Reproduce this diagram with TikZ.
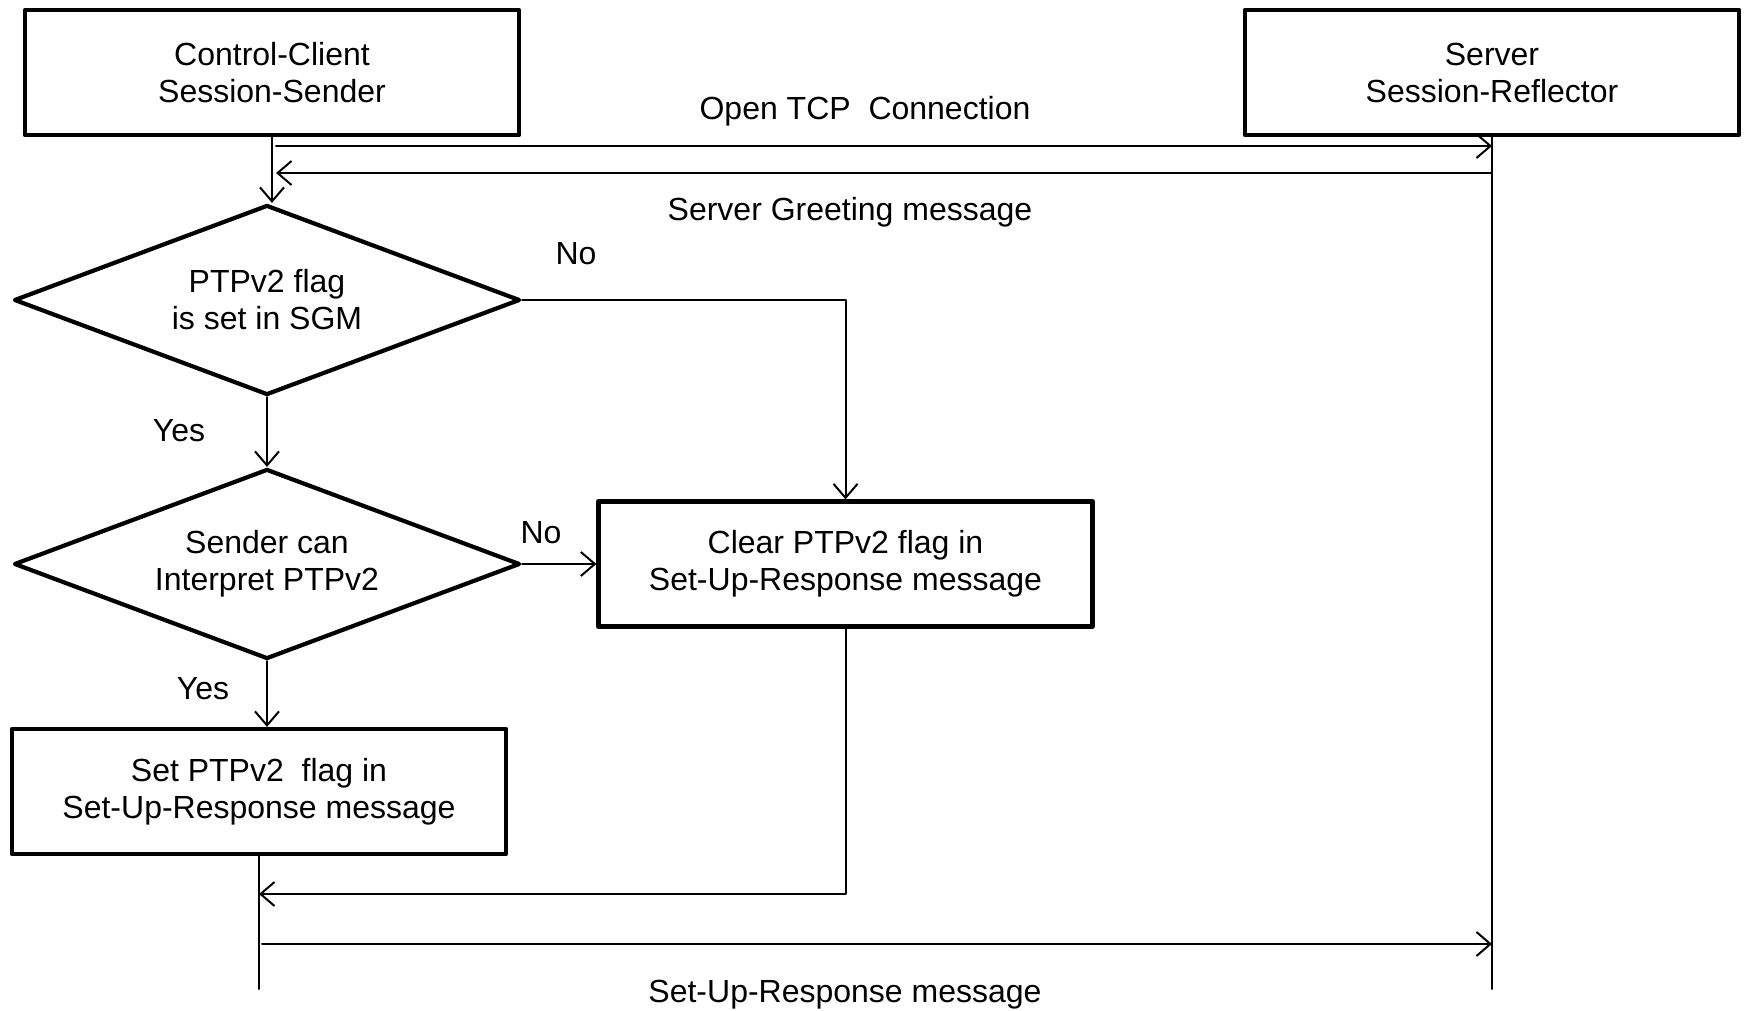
\documentclass[tikz,border=0pt]{standalone}
\usepackage{fontspec}
\setmainfont{Liberation Sans}
\usetikzlibrary{arrows.meta, shapes.geometric, calc}

\begin{document}
\begin{tikzpicture}[x=0.5pt, y=-0.5pt, >={Straight Barb[length=7pt,width=12pt]},
	line cap=round, line join=round, font=\fontsize{16}{18.5}\selectfont,
	box/.style={draw, line width=2.1pt, minimum width=247pt, minimum height=62.5pt,
		inner sep=0pt, align=center},
	decision/.style={draw, diamond, aspect=2.663, line width=2.1pt, minimum width=253pt,
		minimum height=95pt, inner sep=0pt, align=center},
	flow/.style={line width=1pt}]
	
	\useasboundingbox (0,0) rectangle (1747,1011);
	
	% ===== the two parties =====
	\node[box] (client) at (272,72.5) {Control-Client\\Session-Sender};
	\node[box] (server) at (1492,72.5) {Server\\Session-Reflector};
	
	% ===== decisions and actions on the client side =====
	\node[decision] (sgm) at (267,300) {PTPv2 flag\\is set in SGM};
	\node[decision] (interp) at (267,564) {Sender can\\Interpret PTPv2};
	\node[box] (clear) at (845.5,564) {Clear PTPv2 flag in\\Set-Up-Response message};
	\node[box] (setflag) at (259,791.5) {Set PTPv2~ flag in\\Set-Up-Response message};
	
	% lifeline ends
	\coordinate (srvend) at (1492,989);
	\coordinate (cliend) at (257,989);
	\draw[flow] (server.south) -- (srvend);
	
	% TCP open and greeting
	\coordinate (tcp) at (276,146);
	\coordinate (greet) at (276,173);
	\draw[flow,->] (tcp) -- (tcp -| server.south);
	\draw[flow,->] (greet -| server.south) -- (greet);
	\node (tcplbl) at (865,111) {Open TCP~ Connection};
	\node (greetlbl) at (850,212) {Server Greeting message};
	
	% flag checks
	\draw[flow,->] (client.south) -- (client.south |- sgm.north);
	\draw[flow,->] (sgm.south) -- (interp.north);
	\draw[flow,->] (sgm.east) -| (clear.north);
	\draw[flow,->] (interp.east) -- (clear.west);
	\draw[flow,->] (interp.south) -- (interp.south |- setflag.north);
	\node (no1) at (576,254) {No};
	\node (yes1) at (179,431) {Yes};
	\node (no2) at (541,533) {No};
	\node (yes2) at (203,689) {Yes};
	
	% back to the client lifeline, then the response
	\draw[flow] (setflag.south) -- (setflag.south |- cliend);
	\coordinate (ret) at (259,894);
	\draw[flow,->] (clear.south) |- (ret);
	\coordinate (resp) at (262,944);
	\draw[flow,->] (resp) -- (resp -| server.south);
	\node (resplbl) at (845,995) {Set-Up-Response message};
	
\end{tikzpicture}
\end{document}
